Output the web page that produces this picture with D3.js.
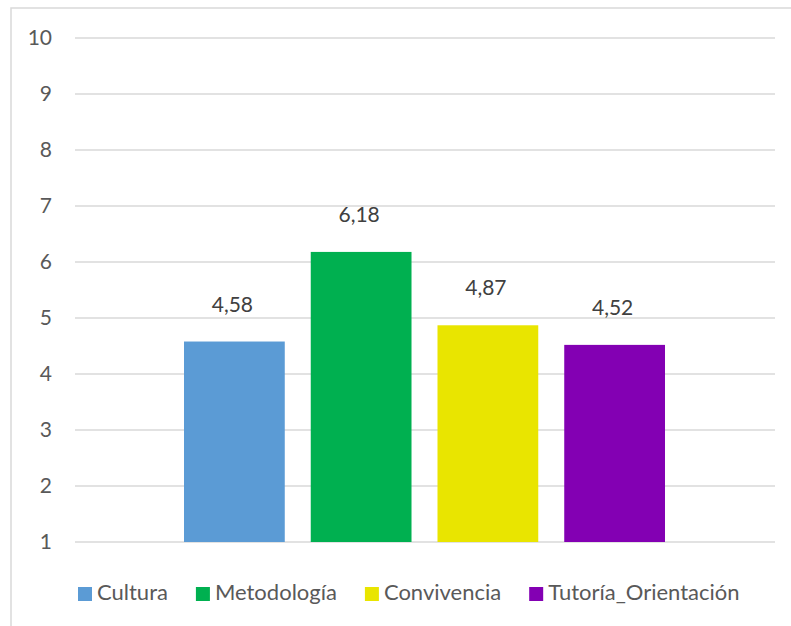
<!DOCTYPE html>
<html><head><meta charset="utf-8">
<script src="https://cdn.jsdelivr.net/npm/d3@7"></script>
<style>body{margin:0;background:#fff}svg{display:block}text{font-family:Lato,"Open Sans",sans-serif}</style>
</head><body><svg id="c" width="791" height="626"></svg>
<script>
const series = ["Cultura","Metodología","Convivencia","Tutoría_Orientación"];
const values = [4.58, 6.18, 4.87, 4.52];
const colors = ["#5B9BD5","#00B050","#E9E500","#8300B3"];
const yTicks = [1,2,3,4,5,6,7,8,9,10];
const fmt = v => v.toFixed(2).replace(".", ",");

const svg = d3.select("#c");
svg.append("rect").attr("x",11).attr("y",8).attr("width",800).attr("height",640)
  .attr("fill","#fff").attr("stroke","#d9d9d9").attr("stroke-width",1.5);

const y = d3.scaleLinear().domain([1,10]).range([542,38]);
const x = d3.scaleBand().domain(series).range([184,665]).paddingInner(0.205);

const grid = svg.append("g");
grid.selectAll("line").data(yTicks).join("line")
  .attr("x1",75).attr("x2",775).attr("y1",d=>y(d)).attr("y2",d=>y(d))
  .attr("stroke","#d9d9d9").attr("stroke-width",1.5);

const yAxis = svg.append("g").attr("transform","translate(52,0)")
  .call(d3.axisLeft(y).tickValues(yTicks).tickSize(0).tickPadding(0));
yAxis.select(".domain").remove();
yAxis.selectAll("text").attr("fill","#595959").style("font-size","21px").attr("font-family","Lato,'Open Sans',sans-serif");

svg.append("g").selectAll("text").data(values).join("text")
  .attr("x",(d,i)=>x(series[i])+x.bandwidth()/2-2).attr("y",d=>y(d)-30)
  .attr("text-anchor","middle").attr("fill","#404040").style("font-size","21px")
  .text(d=>fmt(d));

svg.append("g").selectAll("rect").data(values).join("rect")
  .attr("x",(d,i)=>x(series[i])).attr("width",x.bandwidth())
  .attr("y",d=>y(d)).attr("height",d=>y(1)-y(d)).attr("fill",(d,i)=>colors[i]);

const leg = svg.append("g");
let lx = 78;
series.forEach((s,i)=>{
  leg.append("rect").attr("x",lx).attr("y",587).attr("width",14).attr("height",14).attr("fill",colors[i]);
  const t = leg.append("text").attr("x",lx+19).attr("y",600).attr("fill","#595959").style("font-size","22px").text(s);
  lx += 19 + t.node().getComputedTextLength() + 28;
});
</script></body></html>
